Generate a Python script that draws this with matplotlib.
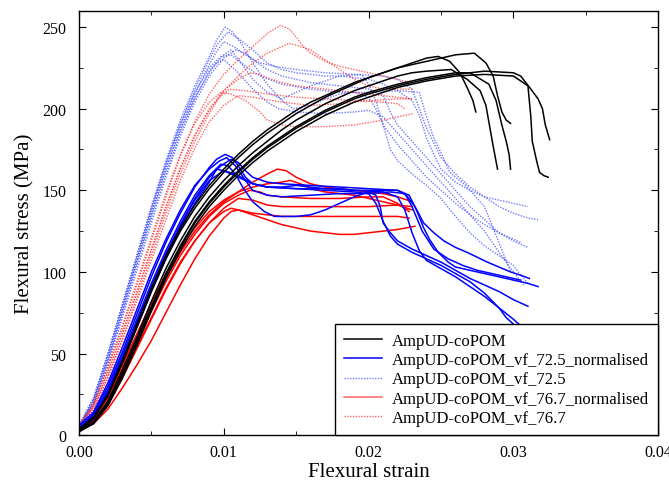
import matplotlib
matplotlib.use('Agg')
import matplotlib.pyplot as plt
from matplotlib.ticker import MultipleLocator

plt.rcParams['font.family'] = ['Liberation Serif', 'DejaVu Serif']

# AmpUD-coPOM (black)
black_strain = [
    [0, .001, .002, .003, .004, .005, .006, .007, .008, .009, .010, .011, .012, .013, .014, .015, .016, .017, .018, .019, .020, .021, .022, .023, .024, .0248, .0256, .0263, .0268, .0272, .0274],
    [0, .001, .002, .003, .004, .005, .006, .007, .008, .009, .010, .011, .012, .013, .014, .015, .016, .017, .018, .019, .020, .021, .022, .023, .024, .0257, .0268, .0277, .0281, .0286, .0289],
    [0, .001, .002, .003, .004, .005, .006, .007, .008, .009, .010, .011, .012, .013, .014, .015, .016, .017, .018, .019, .020, .022, .024, .026, .0273, .0281, .0286, .0289, .0292, .0295, .0298],
    [0, .001, .002, .003, .004, .005, .006, .007, .008, .009, .010, .011, .012, .013, .014, .015, .016, .017, .018, .019, .020, .022, .024, .026, .027, .0283, .0288, .0292, .0295, .0297, .0298],
    [0, .001, .002, .003, .004, .005, .006, .007, .008, .009, .010, .011, .012, .013, .014, .015, .016, .017, .018, .019, .020, .022, .024, .026, .028, .030, .0305, .0312, .0317, .032, .0322, .0325],
    [0, .001, .002, .003, .004, .005, .006, .007, .008, .009, .010, .011, .012, .013, .014, .015, .016, .017, .018, .019, .020, .022, .024, .026, .028, .030, .031, .0312, .0313, .0316, .0318, .0321, .0324],
]
black_stress = [
    [3, 10, 24, 44, 66, 88, 108, 125, 139, 151, 161, 170, 178, 185, 191, 197, 202, 207, 211, 215, 219, 222, 225, 228, 231, 232, 229, 222, 213, 205, 198],
    [3, 8, 21, 40, 60, 82, 102, 119, 134, 146, 156, 165, 173, 180, 187, 193, 198, 203, 207, 211, 214, 217, 220, 222, 223, 224, 218, 211, 202, 177, 163],
    [4, 11, 25, 46, 68, 90, 110, 127, 141, 153, 163, 172, 180, 187, 193, 199, 204, 208, 212, 216, 219, 225, 229, 233, 234, 228, 220, 208, 198, 193, 191],
    [3, 8, 20, 38, 58, 79, 99, 116, 131, 143, 153, 162, 170, 177, 183, 189, 194, 199, 203, 207, 210, 215, 219, 222, 222, 215, 205, 190, 180, 172, 163],
    [3, 7, 19, 37, 57, 78, 98, 115, 130, 142, 152, 161, 169, 176, 182, 188, 193, 198, 202, 206, 209, 214, 218, 221, 223, 222, 220, 212, 206, 200, 190, 181],
    [2, 7, 18, 35, 55, 76, 96, 113, 128, 140, 150, 159, 167, 174, 180, 186, 191, 196, 200, 204, 207, 213, 217, 220, 221, 220, 214, 195, 180, 168, 161, 159, 158],
]

# AmpUD-coPOM_vf_72.5_normalised (blue solid)
blue_n_strain = [
    [0, .001, .002, .003, .004, .005, .006, .007, .008, .009, .0095, .0101, .0106, .011, .0115, .012, .013, .014, .015, .016, .017, .018, .019, .020, .021, .022, .0226, .0232, .0238, .0245, .0252, .026, .0268, .0275, .0282, .029, .0298, .0305, .0311],
    [0, .001, .002, .003, .004, .005, .006, .007, .008, .009, .0098, .0105, .011, .0115, .012, .013, .014, .016, .018, .020, .022, .0228, .0233, .0238, .0242, .0248, .0255, .026, .027, .028, .029, .030, .031, .0317],
    [0, .001, .002, .003, .004, .005, .006, .007, .008, .009, .0098, .0103, .0108, .0113, .012, .0128, .0135, .015, .016, .017, .018, .019, .020, .0205, .0208, .021, .0215, .022, .023, .024, .025, .026, .027, .028, .029, .030, .031],
    [0, .001, .002, .003, .004, .005, .006, .007, .008, .009, .0095, .010, .011, .012, .013, .015, .017, .019, .020, .0205, .021, .0215, .022, .023, .024, .025, .026, .027, .028, .029, .0295, .030],
    [0, .001, .002, .003, .004, .005, .006, .007, .008, .009, .010, .0108, .012, .013, .015, .017, .019, .021, .022, .0225, .023, .0235, .024, .025, .026, .027, .028, .029, .030, .0305, .031],
    [0, .001, .002, .003, .004, .005, .006, .007, .008, .009, .0097, .0102, .0108, .0115, .012, .013, .014, .016, .018, .020, .0215, .0225, .023, .0237, .0245, .0255, .0265, .0275, .029, .030, .0305],
]
blue_n_stress = [
    [5, 13, 30, 51, 74, 97, 118, 136, 152, 164, 169, 172, 170, 165, 158, 154, 152, 152, 153, 152, 151, 151, 150, 150, 150, 150, 147, 140, 130, 124, 119, 115, 112, 109, 106, 103, 100, 98, 96],
    [4, 11, 27, 47, 69, 91, 111, 129, 145, 158, 165, 169, 167, 162, 158, 155, 154, 153, 152, 151, 150, 147, 138, 127, 120, 112, 106, 103, 101, 99, 97, 95, 93, 91],
    [5, 12, 28, 49, 71, 93, 113, 131, 147, 159, 166, 165, 160, 152, 143, 137, 134, 134, 135, 138, 142, 146, 149, 147, 140, 130, 124, 119, 114, 110, 106, 101, 96, 92, 88, 83, 79],
    [4, 10, 25, 45, 66, 88, 108, 126, 142, 155, 163, 162, 158, 154, 152, 151, 150, 149, 148, 142, 131, 122, 117, 112, 108, 104, 99, 94, 87, 78, 72, 68],
    [4, 11, 26, 46, 68, 90, 110, 128, 144, 156, 162, 160, 154, 152, 151, 151, 150, 149, 146, 138, 124, 113, 107, 102, 97, 91, 85, 78, 71, 67, 63],
    [6, 14, 32, 54, 77, 100, 120, 138, 153, 163, 168, 170, 165, 156, 150, 147, 146, 147, 148, 148, 149, 148, 140, 125, 114, 108, 104, 101, 98, 96, 95],
]

# AmpUD-coPOM_vf_72.5 (blue dotted)
blue_strain = [
    [0, .001, .002, .003, .004, .005, .006, .007, .008, .009, .0095, .0101, .0106, .0112, .012, .013, .014, .0148, .016, .017, .018, .019, .020, .0205, .021, .0215, .022, .023, .024, .025, .026, .027, .028, .029, .030, .0305, .031],
    [0, .001, .002, .003, .004, .005, .006, .007, .008, .009, .0096, .0103, .011, .012, .013, .014, .015, .016, .017, .018, .019, .020, .021, .022, .023, .0235, .024, .0245, .025, .026, .027, .028, .029, .030, .031],
    [0, .001, .002, .003, .004, .005, .006, .007, .008, .009, .0095, .010, .0107, .0115, .0125, .0135, .015, .017, .019, .021, .022, .023, .0235, .024, .025, .026, .027, .028, .029, .030, .031, .0317],
    [0, .001, .002, .003, .004, .005, .006, .007, .008, .009, .010, .0108, .0115, .012, .013, .014, .016, .018, .020, .021, .0215, .022, .023, .024, .025, .026, .027, .028, .029, .030, .031],
    [0, .001, .002, .003, .004, .005, .006, .007, .008, .009, .0098, .0105, .0115, .0125, .014, .016, .018, .020, .022, .0235, .024, .0245, .025, .0256, .0267, .028, .029, .0298],
    [0, .001, .002, .003, .004, .005, .006, .007, .008, .009, .0095, .010, .011, .012, .013, .0138, .015, .017, .019, .020, .021, .022, .023, .024, .025, .026, .027, .028, .029, .030, .0307],
    [0, .001, .002, .003, .004, .005, .006, .007, .008, .009, .010, .0105, .0112, .012, .013, .014, .016, .018, .0195, .020, .0205, .021, .022, .023, .024, .025, .026, .027, .028, .029, .030, .0305],
]
blue_stress = [
    [6, 22, 50, 80, 110, 140, 168, 193, 214, 232, 242, 250, 247, 240, 228, 215, 205, 200, 202, 206, 209, 210, 207, 200, 190, 175, 168, 160, 153, 145, 134, 124, 116, 110, 104, 98, 93],
    [5, 21, 48, 78, 108, 138, 166, 191, 212, 230, 240, 247, 243, 236, 228, 224, 222, 221, 220, 220, 219, 218, 215, 211, 205, 196, 182, 172, 163, 155, 150, 146, 144, 142, 140],
    [5, 20, 46, 76, 106, 135, 163, 188, 209, 227, 235, 241, 238, 233, 228, 226, 224, 222, 221, 220, 218, 212, 200, 188, 170, 160, 152, 146, 140, 136, 133, 132],
    [4, 18, 43, 72, 101, 130, 158, 183, 204, 220, 231, 236, 234, 230, 224, 220, 216, 214, 212, 208, 198, 190, 180, 170, 160, 150, 140, 132, 124, 119, 115],
    [6, 23, 50, 80, 110, 139, 166, 190, 210, 225, 232, 233, 226, 220, 215, 212, 210, 210, 211, 210, 195, 182, 173, 161, 153, 140, 118, 100],
    [5, 21, 47, 77, 107, 136, 163, 187, 207, 222, 228, 230, 222, 212, 204, 200, 198, 197, 198, 199, 195, 185, 175, 165, 155, 145, 135, 125, 112, 100, 92],
    [4, 19, 45, 74, 104, 133, 160, 185, 206, 223, 233, 236, 228, 218, 210, 206, 214, 220, 221, 215, 205, 190, 178, 168, 158, 150, 142, 135, 129, 124, 120, 118],
]

# AmpUD-coPOM_vf_76.7_normalised (red solid)
red_n_strain = [
    [0, .001, .002, .003, .004, .005, .006, .007, .008, .009, .010, .011, .012, .013, .0137, .0143, .015, .016, .017, .018, .019, .020, .021, .022, .023],
    [0, .001, .002, .003, .004, .005, .006, .007, .008, .009, .010, .011, .012, .013, .014, .0146, .0153, .016, .017, .018, .019, .020, .021, .022, .023],
    [0, .001, .002, .003, .004, .005, .006, .007, .008, .009, .010, .011, .0118, .0125, .013, .014, .016, .018, .020, .021, .022, .0228],
    [0, .001, .002, .003, .004, .005, .006, .007, .008, .009, .010, .011, .012, .013, .014, .016, .018, .020, .022, .023],
    [0, .001, .002, .003, .004, .005, .006, .007, .008, .009, .010, .0105, .011, .012, .013, .014, .016, .018, .020, .022, .0228],
    [0, .001, .002, .003, .004, .005, .006, .007, .008, .009, .010, .0105, .011, .012, .013, .014, .015, .016, .017, .018, .019, .020, .021, .022, .0232],
]
red_n_stress = [
    [4, 10, 23, 41, 60, 78, 96, 112, 125, 135, 143, 149, 155, 160, 163, 162, 158, 154, 152, 151, 150, 149, 148, 146, 143],
    [5, 11, 25, 43, 62, 81, 99, 114, 127, 137, 144, 149, 152, 154, 155, 156, 154, 151, 149, 148, 147, 145, 143, 141, 138],
    [4, 9, 21, 38, 57, 76, 94, 110, 123, 134, 142, 147, 150, 149, 147, 146, 145, 145, 146, 146, 142, 137],
    [3, 8, 19, 35, 53, 71, 89, 105, 119, 130, 139, 145, 144, 141, 140, 140, 140, 140, 141, 140],
    [3, 7, 16, 29, 43, 58, 75, 92, 108, 122, 133, 137, 138, 136, 135, 134, 134, 134, 134, 134, 133],
    [4, 9, 20, 36, 54, 72, 90, 106, 119, 130, 137, 139, 138, 135, 132, 129, 127, 125, 124, 123, 123, 124, 125, 126, 128],
]

# AmpUD-coPOM_vf_76.7 (red dotted)
red_strain = [
    [0, .001, .002, .003, .004, .005, .006, .007, .008, .009, .010, .011, .012, .013, .0139, .0145, .015, .0155, .016, .017, .018, .019, .020, .021, .022, .0228],
    [0, .001, .002, .003, .004, .005, .006, .007, .008, .009, .010, .011, .012, .013, .014, .0145, .015, .016, .017, .018, .019, .020, .021, .022, .023],
    [0, .001, .002, .003, .004, .005, .006, .007, .008, .009, .010, .011, .0118, .0125, .013, .014, .015, .017, .019, .021, .022, .023],
    [0, .001, .002, .003, .004, .005, .006, .007, .008, .009, .0097, .0104, .0115, .013, .015, .017, .019, .021, .022, .0225],
    [0, .001, .002, .003, .004, .005, .006, .007, .008, .009, .0098, .0105, .0115, .0125, .013, .014, .015, .017, .019, .021, .022, .0231],
    [0, .001, .002, .003, .004, .005, .006, .007, .008, .009, .010, .011, .012, .014, .016, .018, .020, .022, .023],
]
red_stress = [
    [6, 19, 41, 66, 92, 119, 146, 171, 192, 209, 221, 230, 238, 246, 251, 249, 244, 238, 234, 229, 226, 224, 222, 220, 218, 216],
    [5, 17, 38, 62, 87, 113, 139, 163, 183, 199, 211, 220, 228, 234, 238, 240, 239, 236, 230, 224, 218, 214, 212, 212, 212],
    [5, 18, 39, 63, 88, 114, 140, 164, 184, 200, 211, 218, 222, 221, 219, 216, 214, 212, 210, 208, 207, 206],
    [4, 16, 36, 59, 84, 110, 136, 160, 180, 197, 207, 212, 211, 209, 207, 206, 205, 204, 203, 200],
    [6, 19, 42, 67, 94, 121, 148, 172, 191, 204, 210, 209, 205, 198, 193, 190, 189, 189, 190, 193, 195, 197],
    [4, 15, 35, 58, 82, 107, 132, 156, 176, 192, 202, 208, 207, 204, 202, 203, 205, 206, 206],
]

fig = plt.figure(figsize=(6.69, 4.89), dpi=100)
ax = fig.add_axes([0.118, 0.108, 0.866, 0.868])

dots = (0, (1, 1))
for e, s in zip(blue_strain, blue_stress):
    ax.plot(e, s, color='#3344ff', lw=1.0, ls=dots, alpha=0.7)
for e, s in zip(red_strain, red_stress):
    ax.plot(e, s, color='#ff2020', lw=1.0, ls=dots, alpha=0.7)
for e, s in zip(red_n_strain, red_n_stress):
    ax.plot(e, s, color='#ff0000', lw=1.1)
for e, s in zip(blue_n_strain, blue_n_stress):
    ax.plot(e, s, color='#0000ff', lw=1.1)
for e, s in zip(black_strain, black_stress):
    ax.plot(e, s, color='black', lw=1.1)

# legend handles
h1, = ax.plot([], [], color='black', lw=1.1)
h2, = ax.plot([], [], color='#0000ff', lw=1.1)
h3, = ax.plot([], [], color='#3344ff', lw=1.0, ls=dots, alpha=0.7)
h4, = ax.plot([], [], color='#ff0000', lw=1.1, alpha=0.6)
h5, = ax.plot([], [], color='#ff2020', lw=1.0, ls=dots, alpha=0.7)
labels = ['AmpUD-coPOM', 'AmpUD-coPOM_vf_72.5_normalised', 'AmpUD-coPOM_vf_72.5',
          'AmpUD-coPOM_vf_76.7_normalised', 'AmpUD-coPOM_vf_76.7']
leg = ax.legend([h1, h2, h3, h4, h5], labels, loc='lower right', fontsize=12,
                frameon=True, fancybox=False, edgecolor='black', framealpha=1,
                borderaxespad=0, handlelength=2.3, labelspacing=0.2,
                borderpad=0.55, handletextpad=0.6)
leg.get_frame().set_linewidth(1.0)

ax.set_xlim(0, 0.04)
ax.set_ylim(0, 260)
ax.xaxis.set_major_locator(MultipleLocator(0.01))
ax.xaxis.set_minor_locator(MultipleLocator(0.005))
ax.yaxis.set_major_locator(MultipleLocator(50))
ax.yaxis.set_minor_locator(MultipleLocator(25))
ax.xaxis.set_major_formatter(plt.FormatStrFormatter('%.2f'))
ax.tick_params(which='both', direction='in', top=True, right=True, labelsize=11.5)
ax.tick_params(which='major', length=5)
ax.tick_params(which='minor', length=3)
ax.tick_params(axis='y', pad=9)
ax.tick_params(axis='x', pad=6)
for sp in ax.spines.values():
    sp.set_linewidth(1.0)

ax.set_xlabel('Flexural strain', fontsize=15, labelpad=2)
ax.set_ylabel('Flexural stress (MPa)', fontsize=15, labelpad=6)

fig.savefig('out.png', dpi=100)
